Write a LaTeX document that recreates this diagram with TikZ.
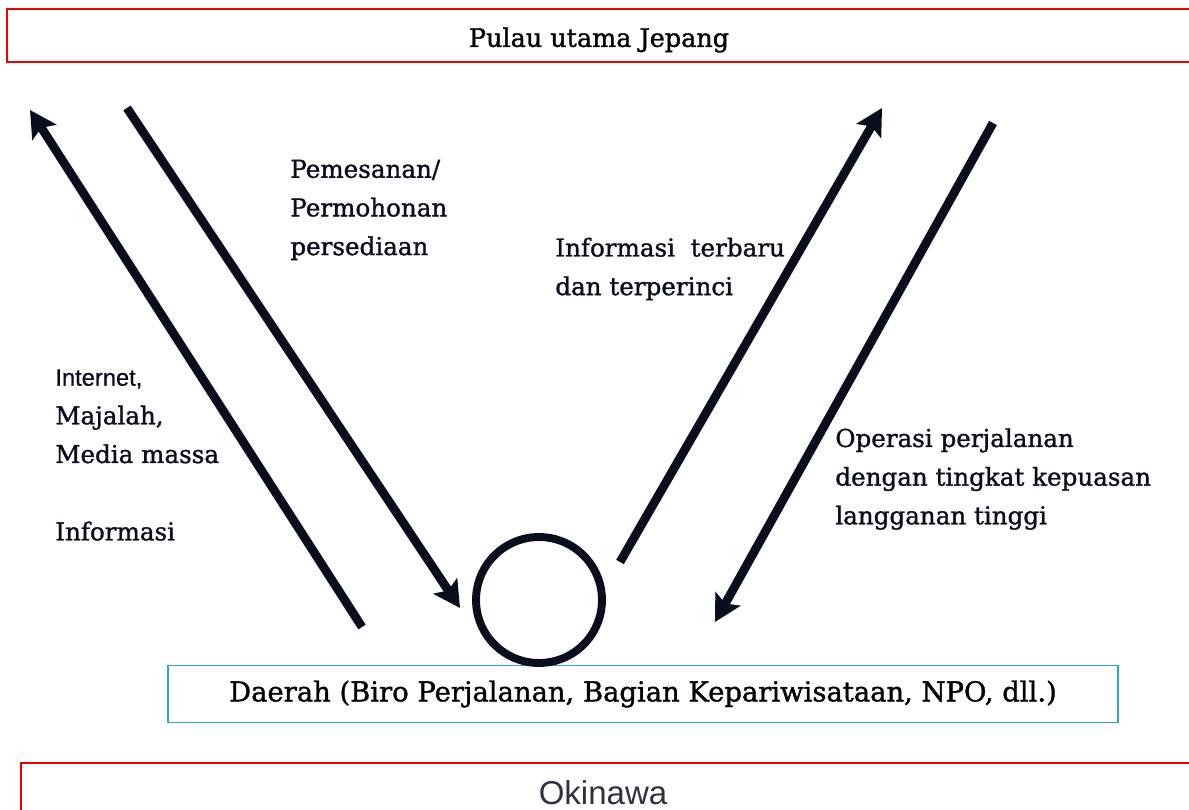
\documentclass[tikz,border=0pt]{standalone}
\usepackage{fontspec}
\setmainfont{DejaVu Serif}[FakeBold=1.3]
\newfontfamily\arialfont{Liberation Sans}[FakeBold=0.6]
\newfontfamily\lightsans{Liberation Sans}
\usetikzlibrary{arrows.meta,positioning}
\definecolor{inkdark}{HTML}{0A0E1C}
\definecolor{framered}{HTML}{F20000}
\definecolor{frameblue}{HTML}{2AA3D3}

\begin{document}
\begin{tikzpicture}[x=0.02cm,y=-0.02cm,
 region/.style={draw=framered,line width=1.2pt},
 local/.style={draw=frameblue,line width=1pt},
 flow/.style={draw=inkdark,line width=5pt,-{Stealth[length=15pt,width=16pt,inset=3pt]}},
 label/.style={align=left,inner sep=0pt,anchor=west,text=inkdark,
               font=\fontsize{14}{22}\selectfont}]
\useasboundingbox (0,0) rectangle (1189,810);
\draw[region] (7,9) rectangle (1200,62);
\node[font=\fontsize{14.5}{16}\selectfont] (mainland) at (599,40) {Pulau utama Jepang};
\draw[region] (21,763) rectangle (1200,830);
\node[font=\lightsans\fontsize{18.8}{20}\selectfont,text=inkdark!85] (okinawa) at (603,793) {Okinawa};
\node[local,minimum width=950*0.02cm,minimum height=57*0.02cm,
      font=\fontsize{15.6}{18}\selectfont] (region) at (643,694)
      {Daerah (Biro Perjalanan, Bagian Kepariwisataan, NPO, dll.)};
\node[circle,draw=inkdark,line width=4.5pt,minimum size=2.52cm] (hub) at (539,600) {};
\coordinate (infoFrom) at (362,627);
\coordinate (infoTo) at (30,110);
\coordinate (orderFrom) at (127,108);
\coordinate (orderTo) at (460,608);
\coordinate (newsFrom) at (620,562);
\coordinate (newsTo) at (882,108);
\coordinate (tourFrom) at (993,123);
\coordinate (tourTo) at (715,622);
\draw[flow] (infoFrom)--(infoTo);
\draw[flow] (orderFrom)--(orderTo);
\draw[flow] (newsFrom)--(newsTo);
\draw[flow] (tourFrom)--(tourTo);
\node[label] (order) at (290,210) {Pemesanan/\\Permohonan\\persediaan};
\node[label] (news) at (555,269) {Informasi\ \ terbaru\\dan terperinci};
\node[label] (media) at (55,455) {{\arialfont\fontsize{13.5}{22}\selectfont Internet,}\\Majalah,\\Media massa\\[22pt]Informasi};
\node[label] (tour) at (835,479) {Operasi perjalanan\\dengan tingkat kepuasan\\langganan tinggi};
\end{tikzpicture}
\end{document}
